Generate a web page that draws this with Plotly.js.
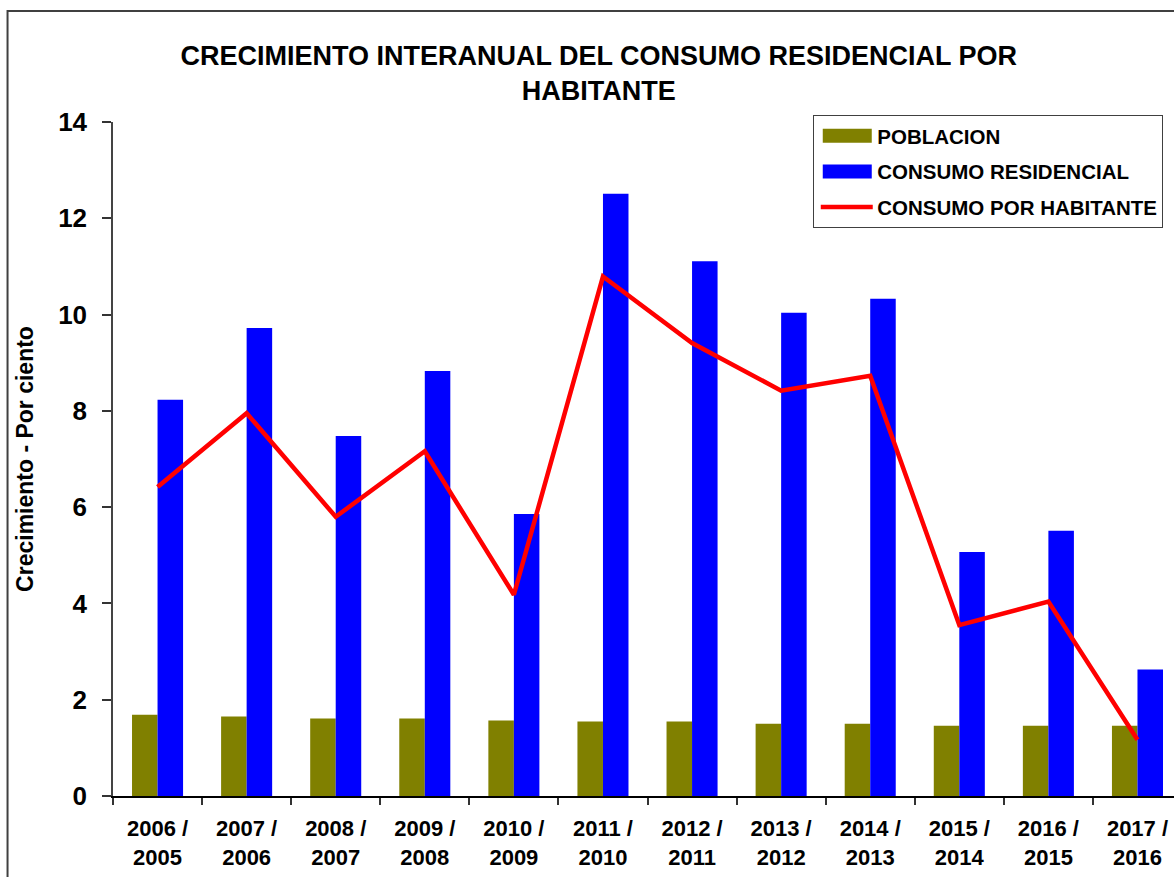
<!DOCTYPE html>
<html>
<head>
<meta charset="utf-8">
<script src="https://cdn.plot.ly/plotly-3.0.1.min.js"></script>
<style>html,body{margin:0;padding:0;background:#fff;}#chart{width:1174px;height:877px;}</style>
</head>
<body>
<div id="chart"></div>
<script>
const categories = ['2006 /<br>2005','2007 /<br>2006','2008 /<br>2007','2009 /<br>2008','2010 /<br>2009','2011 /<br>2010','2012 /<br>2011','2013 /<br>2012','2014 /<br>2013','2015 /<br>2014','2016 /<br>2015','2017 /<br>2016'];
const poblacion = [1.69,1.65,1.61,1.61,1.57,1.55,1.55,1.50,1.50,1.46,1.46,1.46];
const consumoResidencial = [8.23,9.72,7.48,8.83,5.86,12.51,11.11,10.04,10.33,5.07,5.51,2.63];
const consumoPorHabitante = [6.42,7.95,5.80,7.16,4.18,10.79,9.41,8.42,8.73,3.55,4.04,1.17];
const seriesNames = ['POBLACION','CONSUMO RESIDENCIAL','CONSUMO POR HABITANTE'];
const yTicks = [0,2,4,6,8,10,12,14];

const FONT = 'Liberation Sans, Arial, sans-serif';

const traces = [
  {type:'bar', x:categories, y:poblacion, name:seriesNames[0], legendgroup:'a',
   marker:{color:'#808000'}},
  {type:'bar', x:categories, y:consumoResidencial, name:seriesNames[1], legendgroup:'b',
   marker:{color:'#0000FF'}},
  {type:'scatter', mode:'lines', x:categories, y:consumoPorHabitante, name:seriesNames[2], legendgroup:'c',
   line:{color:'#FF0000', width:4.5}}
];

const xr = [-0.5, 11.41];
const layout = {
  width:1174, height:877,
  margin:{l:113, r:0, t:122, b:81, pad:0},
  paper_bgcolor:'#fff', plot_bgcolor:'#fff',
  font:{family:FONT, color:'#000'},
  title:{text:'CRECIMIENTO INTERANUAL DEL CONSUMO RESIDENCIAL POR<br>HABITANTE',
         font:{family:FONT, size:27, color:'#000', weight:'bold'},
         xref:'container', x:0.51, xanchor:'center',
         yref:'container', y:1-0.074, yanchor:'top'},
  barmode:'group', bargap:0.427, bargroupgap:0,
  showlegend:true,
  legend:{x:0.66, xanchor:'left', y:1.0104, yanchor:'top',
          bgcolor:'#fff', bordercolor:'#404040', borderwidth:1,
          font:{family:FONT, size:20.5, color:'#000', weight:'bold'},
          traceorder:'grouped', tracegroupgap:6, itemwidth:53},
  xaxis:{type:'category', categoryarray:categories, range:xr,
         tickson:'boundaries', ticks:'outside', ticklen:7, tickwidth:1.5, tickcolor:'#333',
         showline:true, linecolor:'#000', linewidth:1.5, showgrid:false, zeroline:false,
         tickfont:{family:FONT, size:22, color:'#000', weight:'bold'}, ticklabelstandoff:12},
  xaxis2:{type:'category', categoryarray:categories, range:xr, overlaying:'x', anchor:'y',
          tickson:'boundaries', ticks:'inside', ticklen:7, tickwidth:1.5, tickcolor:'#333',
          showticklabels:false, showline:false, showgrid:false, zeroline:false},
  yaxis:{range:[0,14], tickvals:yTicks,
         ticks:'outside', ticklen:9, tickwidth:1.5, tickcolor:'#333',
         showline:true, linecolor:'#444', linewidth:1.5, showgrid:false, zeroline:false,
         tickfont:{family:FONT, size:26, color:'#000', weight:'bold'}, ticklabelstandoff:10,
         title:{text:'Crecimiento - Por ciento', font:{family:FONT, size:23, color:'#000', weight:'bold'}, standoff:18}},
  yaxis2:{range:[0,14], tickvals:yTicks, overlaying:'y', anchor:'x', side:'left',
          ticks:'inside', ticklen:9, tickwidth:1.5, tickcolor:'#333',
          showticklabels:false, showline:false, showgrid:false, zeroline:false},
  shapes:[
    {type:'rect', xref:'paper', yref:'paper', x0:-0.0994, x1:1.05, y0:1.1646, y1:-0.25,
     line:{color:'#404040', width:2}, fillcolor:'rgba(0,0,0,0)', layer:'above'}
  ]
};

// Reshape the legend keys into the wide rectangles / longer line of the reference.
function fixLegend(gd){
  const bg = gd.querySelector('.legend rect.bg');
  if(!bg) return;
  const L = bg.getBoundingClientRect().left;
  const keyL = L + 9, keyR = L + 58;
  gd.querySelectorAll('.legend .legendpoints path').forEach(function(p){
    if(p.classList.contains('js-line')) return;
    const r = p.getBoundingClientRect();
    if(!r.width || r.width > 30) return;
    const cx = (r.left + r.right) / 2;
    p.setAttribute('d','M'+(keyL-cx)+',7H'+(keyR-cx)+'V-7H'+(keyL-cx)+'Z');
  });
  gd.querySelectorAll('.legend path.js-line').forEach(function(p){
    const d = p.getAttribute('d') || '';
    if(/h52$/.test(d)) return;
    const m = d.match(/M\s*(-?[\d.]+)/);
    const r = p.getBoundingClientRect();
    if(!m || !r.width) return;
    const off = r.left - parseFloat(m[1]);
    p.setAttribute('d','M'+(L+7-off)+',0h52');
  });
}

Plotly.newPlot('chart', traces, layout, {displayModeBar:false, responsive:false}).then(function(gd){
  fixLegend(gd);
  gd.on('plotly_afterplot', function(){ fixLegend(gd); });
  [30, 100, 250, 500].forEach(function(t){ setTimeout(function(){ fixLegend(gd); }, t); });
});
</script>
</body>
</html>
